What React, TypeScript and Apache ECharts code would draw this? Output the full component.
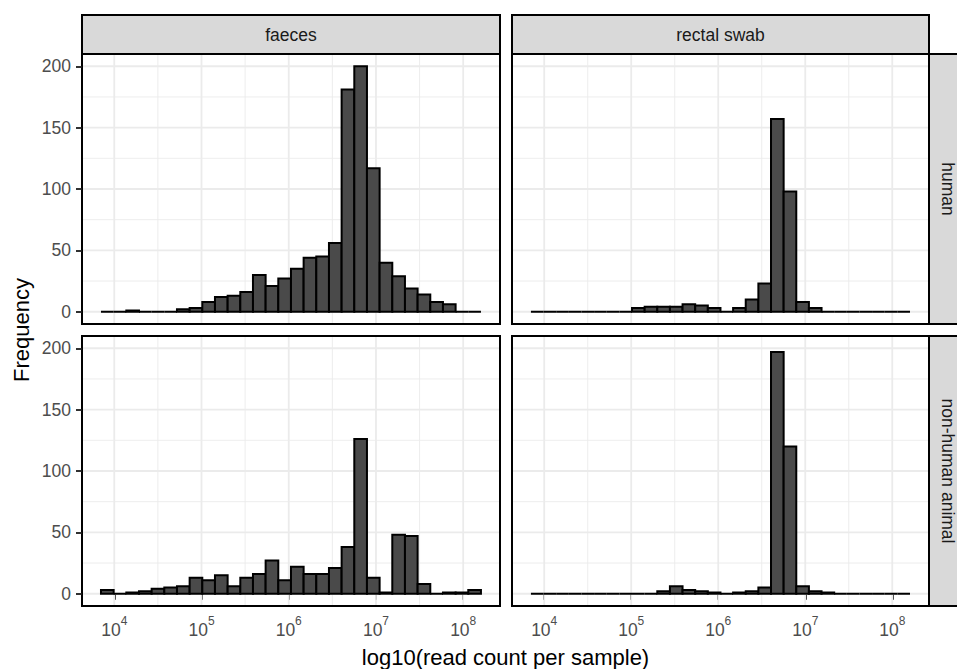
import React, { useEffect, useRef } from "react";
import * as echarts from "echarts";

// Histogram bins (log10 read count), 30 bins shared by all panels
const binStart = 3.8476;
const binWidth = 0.1452;

const sampleTypes = ["faeces", "rectal swab"];
const hostTypes = ["human", "non-human animal"];

// counts per bin
const faecesHuman = [0, 0, 1, 0, 0, 0, 2, 3, 8, 12, 13, 16, 30, 21, 27, 35, 44, 45, 56, 181, 200, 117, 40, 29, 19, 14, 8, 6, 0, 0];
const rectalHuman = [0, 0, 0, 0, 0, 0, 0, 0, 3, 4, 4, 4, 6, 5, 3, 0, 3, 10, 23, 157, 98, 8, 3, 0, 0, 0, 0, 0, 0, 0];
const faecesAnimal = [3, 0, 1, 2, 4, 5, 6, 13, 11, 15, 6, 13, 16, 27, 11, 22, 16, 16, 21, 38, 126, 13, 1, 48, 47, 8, 0, 1, 1, 3];
const rectalAnimal = [0, 0, 0, 0, 0, 0, 0, 0, 0, 0, 2, 6, 3, 2, 1, 0, 1, 2, 5, 197, 120, 6, 2, 1, 0, 0, 0, 0, 0, 0];

const xTicks = [4, 5, 6, 7, 8];
const xMinor = [4.5, 5.5, 6.5, 7.5];
const yTicks = [0, 50, 100, 150, 200];
const yMinor = [25, 75, 125, 175];

const xMin = 3.63;
const xMax = 8.422;
const yMin = -10;
const yMax = 210;

const FONT = "Liberation Sans, Arial, Helvetica, sans-serif";

export default function App() {
  const ref = useRef<HTMLDivElement>(null);

  useEffect(() => {
    if (!ref.current) return;
    const chart = echarts.init(ref.current, null, { renderer: "svg" });

    const panelLeft = [82, 512];
    const panelW = [418, 417];
    const panelTop = [54, 336];
    const panelH = 270;
    const counts = [
      [faecesHuman, rectalHuman],
      [faecesAnimal, rectalAnimal],
    ];

    const grids: any[] = [];
    const xAxes: any[] = [];
    const yAxes: any[] = [];
    const series: any[] = [];

    let gi = 0;
    for (let r = 0; r < 2; r++) {
      for (let c = 0; c < 2; c++) {
        const isBottom = r === 1;
        const isLeft = c === 0;
        grids.push({
          left: panelLeft[c],
          top: panelTop[r],
          width: panelW[c],
          height: panelH,
          show: true,
          backgroundColor: "#ffffff",
          borderColor: "#000000",
          borderWidth: 2,
        });
        xAxes.push({
          type: "value",
          gridIndex: gi,
          min: xMin,
          max: xMax,
          axisLine: { show: false },
          splitLine: { show: false },
          axisTick: {
            show: isBottom,
            length: 6,
            customValues: xTicks,
            lineStyle: { color: "#1a1a1a", width: 1.8 },
          },
          axisLabel: {
            show: isBottom,
            customValues: xTicks,
            margin: 9,
            formatter: (v: number) => `{b|10}{s|${Math.round(v)}}`,
            rich: {
              b: { fontSize: 17.5, fontFamily: FONT, color: "#4d4d4d", lineHeight: 24, verticalAlign: "bottom" },
              s: { fontSize: 12, fontFamily: FONT, color: "#4d4d4d", lineHeight: 14, verticalAlign: "top" },
            },
          },
        });
        yAxes.push({
          type: "value",
          gridIndex: gi,
          min: yMin,
          max: yMax,
          axisLine: { show: false },
          splitLine: { show: false },
          axisTick: {
            show: isLeft,
            length: 6,
            customValues: yTicks,
            lineStyle: { color: "#1a1a1a", width: 1.8 },
          },
          axisLabel: {
            show: isLeft,
            customValues: yTicks,
            margin: 11,
            fontSize: 17.5,
            fontFamily: FONT,
            color: "#4d4d4d",
          },
        });

        // grid lines
        const gridData: number[][] = [
          ...xTicks.map((v) => [v, 0, 0, 1]),
          ...xMinor.map((v) => [v, 0, 0, 0]),
          ...yTicks.map((v) => [xTicks[0], v, 1, 1]),
          ...yMinor.map((v) => [xTicks[0], v, 1, 0]),
        ];
        series.push({
          type: "custom",
          xAxisIndex: gi,
          yAxisIndex: gi,
          silent: true,
          z: 1,
          data: gridData,
          renderItem: (params: any, api: any) => {
            const cs = params.coordSys;
            const orient = api.value(2);
            const major = api.value(3) === 1;
            const p = api.coord([api.value(0), api.value(1)]);
            const shape =
              orient === 0
                ? { x1: p[0], y1: cs.y + 1, x2: p[0], y2: cs.y + cs.height - 1 }
                : { x1: cs.x + 1, y1: p[1], x2: cs.x + cs.width - 1, y2: p[1] };
            return {
              type: "line",
              shape,
              style: { stroke: "#ebebeb", lineWidth: major ? 1.8 : 0.9 },
            };
          },
        });

        // histogram bars
        const data = counts[r][c].map((n, k) => [binStart + k * binWidth, binStart + (k + 1) * binWidth, n]);
        series.push({
          type: "custom",
          xAxisIndex: gi,
          yAxisIndex: gi,
          z: 2,
          data,
          encode: { x: [0, 1], y: 2 },
          renderItem: (params: any, api: any) => {
            const p0 = api.coord([api.value(0), 0]);
            const p1 = api.coord([api.value(1), api.value(2)]);
            return {
              type: "rect",
              shape: { x: p0[0], y: p1[1], width: p1[0] - p0[0], height: p0[1] - p1[1] },
              style: { fill: "#4a4a4a", stroke: "#000000", lineWidth: 2 },
            };
          },
        });
        gi++;
      }
    }

    const graphics: any[] = [];
    // top strips
    for (let c = 0; c < 2; c++) {
      graphics.push({
        type: "rect",
        shape: { x: panelLeft[c], y: 15, width: panelW[c], height: 39 },
        style: { fill: "#d9d9d9", stroke: "#000000", lineWidth: 2 },
        z: 10,
      });
      graphics.push({
        type: "text",
        x: panelLeft[c] + panelW[c] / 2,
        y: 35,
        z: 11,
        style: {
          text: sampleTypes[c],
          fontSize: 17.5,
          fontFamily: FONT,
          fill: "#1a1a1a",
          align: "center",
          verticalAlign: "middle",
        },
      });
    }
    // right strips
    for (let r = 0; r < 2; r++) {
      graphics.push({
        type: "rect",
        shape: { x: 929, y: panelTop[r], width: 39, height: panelH },
        style: { fill: "#d9d9d9", stroke: "#000000", lineWidth: 2 },
        z: 10,
      });
      graphics.push({
        type: "text",
        x: 948,
        y: panelTop[r] + panelH / 2,
        rotation: -Math.PI / 2,
        z: 11,
        style: {
          text: hostTypes[r],
          fontSize: 17.5,
          fontFamily: FONT,
          fill: "#1a1a1a",
          align: "center",
          verticalAlign: "middle",
        },
      });
    }
    // axis titles
    graphics.push({
      type: "text",
      x: (82 + 929) / 2,
      y: 657,
      z: 11,
      style: {
        text: "log10(read count per sample)",
        fontSize: 22,
        fontFamily: FONT,
        fill: "#000000",
        align: "center",
        verticalAlign: "middle",
      },
    });
    graphics.push({
      type: "text",
      x: 21,
      y: 330,
      rotation: Math.PI / 2,
      z: 11,
      style: {
        text: "Frequency",
        fontSize: 22,
        fontFamily: FONT,
        fill: "#000000",
        align: "center",
        verticalAlign: "middle",
      },
    });

    chart.setOption({
      animation: false,
      backgroundColor: "#ffffff",
      grid: grids,
      xAxis: xAxes,
      yAxis: yAxes,
      series,
      graphic: graphics,
    });

    return () => chart.dispose();
  }, []);

  return (
    <div
      ref={ref}
      style={{ position: "absolute", left: 0, top: 0, width: 957, height: 669 }}
    />
  );
}
